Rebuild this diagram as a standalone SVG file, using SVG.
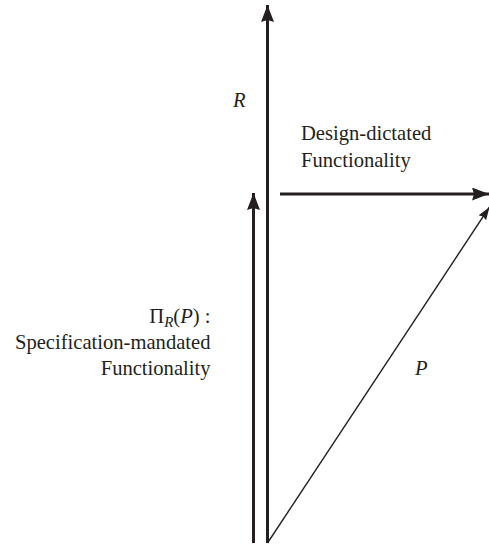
<svg xmlns="http://www.w3.org/2000/svg" width="489" height="546" viewBox="0 0 489 546">
<style>
.t{font-family:"Liberation Serif","Times New Roman",serif;font-size:20.6px;fill:#231f20}
.i{font-style:italic}
.thick{stroke:#231f20;stroke-width:3;fill:none}
.thin{stroke:#231f20;stroke-width:1.4;fill:none}
</style>
<defs>
<marker id="ah" markerUnits="userSpaceOnUse" markerWidth="18" markerHeight="14" refX="17" refY="6.5" orient="auto">
<path d="M0,0 L17,6.5 L0,13 L2,6.5 Z" fill="#231f20"/>
</marker>
<marker id="ahs" markerUnits="userSpaceOnUse" markerWidth="14" markerHeight="10" refX="13" refY="4.5" orient="auto">
<path d="M0,0 L13,4.5 L0,9 L1.5,4.5 Z" fill="#231f20"/>
</marker>
</defs>
<g id="connectors">
<line id="R" class="thick" x1="267.5" y1="543" x2="267.5" y2="5" marker-end="url(#ah)"/>
<line id="PiR" class="thick" x1="253.5" y1="543" x2="253.5" y2="193" marker-end="url(#ah)"/>
<line id="design" class="thick" x1="280" y1="194" x2="489" y2="194" marker-end="url(#ah)"/>
<line id="P" class="thin" x1="267.5" y1="543" x2="489.5" y2="207" marker-end="url(#ahs)"/>
</g>
<g id="label-R"><text class="t i" x="233" y="107">R</text></g>
<g id="label-design"><text class="t" x="301" y="140">Design-dictated</text><text class="t" x="301" y="167">Functionality</text></g>
<g id="label-spec">
<text class="t" x="210.5" y="323" text-anchor="end">Π<tspan class="i" font-size="15" dy="4">R</tspan><tspan dy="-4">(</tspan><tspan class="i">P</tspan>) :</text>
<text class="t" x="210.5" y="349" text-anchor="end">Specification-mandated</text>
<text class="t" x="210.5" y="375" text-anchor="end">Functionality</text>
</g>
<g id="label-P"><text class="t i" x="415" y="375">P</text></g>
</svg>
